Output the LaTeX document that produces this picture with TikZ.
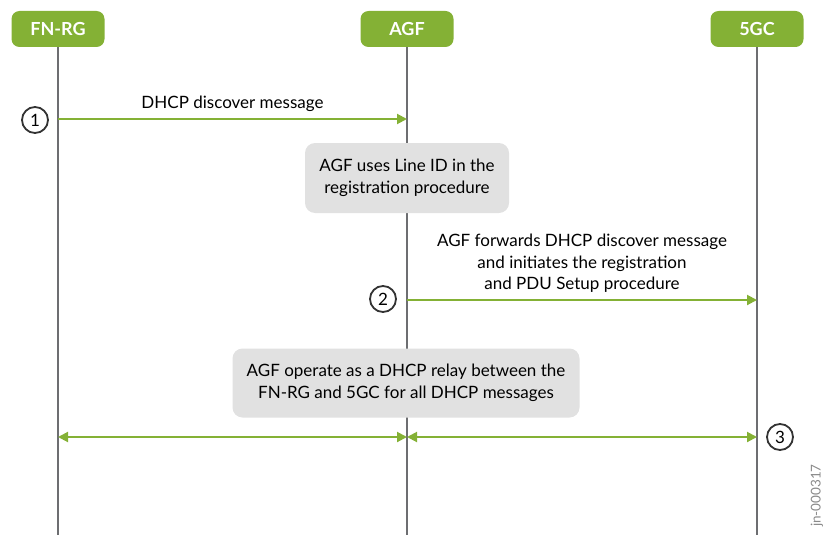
\documentclass[tikz,border=0pt]{standalone}
\usepackage{fontspec}
\setmainfont{Lato}
\usetikzlibrary{arrows.meta}

\definecolor{jgreen}{HTML}{84B135}
\definecolor{lifegray}{HTML}{6D6E71}
\definecolor{notegray}{HTML}{E1E1E1}
\definecolor{idgray}{HTML}{8A8A8A}

\tikzset{
  header/.style={fill=jgreen, rounded corners=8pt, minimum width=93pt,
    minimum height=36pt, inner sep=0pt, text=white,
    font=\fontsize{18}{20}\selectfont\bfseries},
  lifeline/.style={draw=lifegray, line width=2pt},
  msg/.style={draw=jgreen, line width=2pt,
    -{Triangle[length=10pt,width=10pt]}},
  note/.style={fill=notegray, rounded corners=10pt, align=center,
    inner sep=0pt, font=\fontsize{17}{22.5}\selectfont},
  label/.style={align=center, font=\fontsize{17}{21.5}\selectfont},
  stepnum/.style={circle, draw=black!80, line width=1.8pt,
    minimum size=26pt, inner sep=0pt, font=\fontsize{17}{17}\selectfont}
}

\begin{document}
\begin{tikzpicture}[x=1pt,y=-1pt]
\useasboundingbox (0,0) rectangle (826,535);

% participants
\node[header] (fnrg) at (58,29) {FN-RG};
\node[header] (agf) at (407,29) {AGF};
\node[header] (fivegc) at (757,29) {5GC};

\coordinate (fnrg end) at (58,535);
\coordinate (agf end) at (407,535);
\coordinate (fivegc end) at (757,535);

\draw[lifeline] (fnrg.south) to (fnrg end);
\draw[lifeline] (agf.south) to (agf end);
\draw[lifeline] (fivegc.south) to (fivegc end);

% step 1
\coordinate (m1 from) at (58,119);
\coordinate (m1 to) at (407,119);
\draw[msg] (m1 from) to node[label, above=3pt]{DHCP discover message} (m1 to);
\node[stepnum] (s1) at (35,120) {1};

\node[note, minimum width=204pt, minimum height=70pt] (lineid) at (407,178)
  {AGF uses Line ID in the\\registration procedure};

% step 2
\coordinate (m2 from) at (407,300);
\coordinate (m2 to) at (757,300);
\draw[msg] (m2 from) to node[label, above=3pt]
  {AGF forwards DHCP discover message\\and initiates the registration\\and PDU Setup procedure} (m2 to);
\node[stepnum] (s2) at (383,299) {2};

\node[note, minimum width=347pt, minimum height=69pt] (relay) at (406,383)
  {AGF operate as a DHCP relay between the\\FN-RG and 5GC for all DHCP messages};

% step 3
\coordinate (m3 left) at (58,437);
\coordinate (m3 mid) at (407,437);
\coordinate (m3 right) at (757,437);
\draw[msg, {Triangle[length=10pt,width=10pt]}-{Triangle[length=10pt,width=10pt]}] (m3 left) to (m3 mid);
\draw[msg, {Triangle[length=10pt,width=10pt]}-{Triangle[length=10pt,width=10pt]}] (m3 mid) to (m3 right);
\node[stepnum] (s3) at (780,437) {3};

\node[rotate=90, anchor=east, inner sep=0pt, text=idgray,
  font=\fontsize{13.5}{13.5}\selectfont] (figid) at (817,464) {jn-000317};

\end{tikzpicture}
\end{document}
